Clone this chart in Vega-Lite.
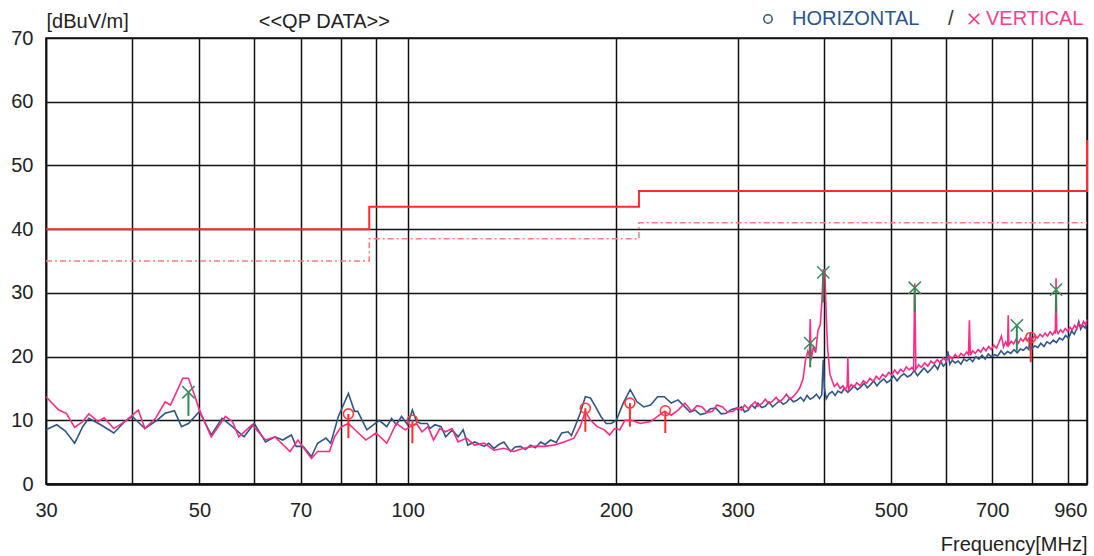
{
 "$schema": "https://vega.github.io/schema/vega-lite/v6.json",
 "width": 1041, "height": 446,
 "autosize": {"type": "none"},
 "padding": {"left": 46, "top": 38, "right": 7, "bottom": 72},
 "background": "white",
 "config": {"font": "Liberation Sans", "view": {"stroke": "#111", "strokeWidth": 1.5}},
 "title": {"text": "<<QP DATA>>", "anchor": "start", "dx": 248, "fontSize": 20, "fontWeight": "normal", "color": "#222", "offset": 0, "baseline": "middle", "dy": 33},
 "datasets": {
  "traces": [
   {"pol":"HORIZONTAL","f":30,"v":8.5},{"pol":"HORIZONTAL","f":31.1,"v":9.3},{"pol":"HORIZONTAL","f":32,"v":8.3},{"pol":"HORIZONTAL","f":33,"v":6.4},{"pol":"HORIZONTAL","f":33.9,"v":9.0},{"pol":"HORIZONTAL","f":34.6,"v":10.3},{"pol":"HORIZONTAL","f":36,"v":9.3},{"pol":"HORIZONTAL","f":37.6,"v":8.0},{"pol":"HORIZONTAL","f":39,"v":9.8},{"pol":"HORIZONTAL","f":40,"v":10.6},{"pol":"HORIZONTAL","f":41.7,"v":8.7},{"pol":"HORIZONTAL","f":43.4,"v":10.0},{"pol":"HORIZONTAL","f":44.6,"v":11.1},{"pol":"HORIZONTAL","f":46,"v":11.5},{"pol":"HORIZONTAL","f":47.1,"v":9.0},{"pol":"HORIZONTAL","f":48.2,"v":9.5},{"pol":"HORIZONTAL","f":50,"v":11.4},{"pol":"HORIZONTAL","f":51,"v":9.5},{"pol":"HORIZONTAL","f":52,"v":7.7},{"pol":"HORIZONTAL","f":53.9,"v":10.3},{"pol":"HORIZONTAL","f":55.8,"v":9.0},{"pol":"HORIZONTAL","f":58,"v":7.4},{"pol":"HORIZONTAL","f":60,"v":9.5},{"pol":"HORIZONTAL","f":62.3,"v":6.6},{"pol":"HORIZONTAL","f":64.3,"v":7.4},{"pol":"HORIZONTAL","f":66,"v":6.9},{"pol":"HORIZONTAL","f":67.9,"v":7.7},{"pol":"HORIZONTAL","f":69,"v":5.9},{"pol":"HORIZONTAL","f":70.6,"v":5.9},{"pol":"HORIZONTAL","f":72.6,"v":4.3},{"pol":"HORIZONTAL","f":74.1,"v":6.4},{"pol":"HORIZONTAL","f":76.2,"v":7.2},{"pol":"HORIZONTAL","f":77.4,"v":6.4},{"pol":"HORIZONTAL","f":79.4,"v":10.6},{"pol":"HORIZONTAL","f":82.1,"v":14.2},{"pol":"HORIZONTAL","f":83.8,"v":11.4},{"pol":"HORIZONTAL","f":84.7,"v":11.4},{"pol":"HORIZONTAL","f":87.3,"v":8.5},{"pol":"HORIZONTAL","f":91,"v":10.0},{"pol":"HORIZONTAL","f":93.3,"v":9.0},{"pol":"HORIZONTAL","f":94.8,"v":10.3},{"pol":"HORIZONTAL","f":96.3,"v":9.3},{"pol":"HORIZONTAL","f":98,"v":10.6},{"pol":"HORIZONTAL","f":100,"v":9.3},{"pol":"HORIZONTAL","f":101.6,"v":11.6},{"pol":"HORIZONTAL","f":103,"v":9.8},{"pol":"HORIZONTAL","f":104.5,"v":9.5},{"pol":"HORIZONTAL","f":106.8,"v":9.5},{"pol":"HORIZONTAL","f":107.7,"v":8.7},{"pol":"HORIZONTAL","f":109.5,"v":9.3},{"pol":"HORIZONTAL","f":111.8,"v":9.0},{"pol":"HORIZONTAL","f":113.5,"v":7.4},{"pol":"HORIZONTAL","f":116,"v":8.5},{"pol":"HORIZONTAL","f":118.3,"v":7.4},{"pol":"HORIZONTAL","f":120.3,"v":8.5},{"pol":"HORIZONTAL","f":122.2,"v":6.1},{"pol":"HORIZONTAL","f":125,"v":6.6},{"pol":"HORIZONTAL","f":129,"v":5.9},{"pol":"HORIZONTAL","f":131,"v":6.4},{"pol":"HORIZONTAL","f":133.3,"v":5.6},{"pol":"HORIZONTAL","f":135.5,"v":6.2},{"pol":"HORIZONTAL","f":137.8,"v":6.6},{"pol":"HORIZONTAL","f":140.9,"v":5.1},{"pol":"HORIZONTAL","f":143,"v":5.8},{"pol":"HORIZONTAL","f":145.6,"v":5.9},{"pol":"HORIZONTAL","f":148,"v":5.4},{"pol":"HORIZONTAL","f":150.6,"v":6.1},{"pol":"HORIZONTAL","f":153,"v":5.7},{"pol":"HORIZONTAL","f":155.8,"v":6.6},{"pol":"HORIZONTAL","f":158,"v":6.2},{"pol":"HORIZONTAL","f":161,"v":6.9},{"pol":"HORIZONTAL","f":164,"v":6.5},{"pol":"HORIZONTAL","f":167,"v":8.0},{"pol":"HORIZONTAL","f":170.6,"v":8.2},{"pol":"HORIZONTAL","f":172.5,"v":7.6},{"pol":"HORIZONTAL","f":174.6,"v":9.0},{"pol":"HORIZONTAL","f":177.6,"v":11.1},{"pol":"HORIZONTAL","f":180.7,"v":13.7},{"pol":"HORIZONTAL","f":183.8,"v":13.5},{"pol":"HORIZONTAL","f":187,"v":12.1},{"pol":"HORIZONTAL","f":190.3,"v":10.6},{"pol":"HORIZONTAL","f":193.6,"v":9.5},{"pol":"HORIZONTAL","f":196.9,"v":9.5},{"pol":"HORIZONTAL","f":200.3,"v":10.0},{"pol":"HORIZONTAL","f":205,"v":12.7},{"pol":"HORIZONTAL","f":209.8,"v":14.8},{"pol":"HORIZONTAL","f":214.6,"v":12.9},{"pol":"HORIZONTAL","f":219.5,"v":12.1},{"pol":"HORIZONTAL","f":224.6,"v":12.4},{"pol":"HORIZONTAL","f":229.8,"v":13.7},{"pol":"HORIZONTAL","f":235,"v":13.7},{"pol":"HORIZONTAL","f":240.5,"v":12.7},{"pol":"HORIZONTAL","f":246,"v":13.2},{"pol":"HORIZONTAL","f":251.7,"v":12.1},{"pol":"HORIZONTAL","f":256,"v":11.3},{"pol":"HORIZONTAL","f":260.5,"v":11.6},{"pol":"HORIZONTAL","f":265,"v":10.9},{"pol":"HORIZONTAL","f":269.6,"v":11.1},{"pol":"HORIZONTAL","f":274,"v":11.8},{"pol":"HORIZONTAL","f":279,"v":11.9},{"pol":"HORIZONTAL","f":284,"v":11.0},{"pol":"HORIZONTAL","f":288.7,"v":11.1},{"pol":"HORIZONTAL","f":294,"v":11.7},{"pol":"HORIZONTAL","f":298.7,"v":11.9},
   {"pol":"HORIZONTAL","f":300,"v":11.7},{"pol":"HORIZONTAL","f":304,"v":12.1},{"pol":"HORIZONTAL","f":307,"v":11.3},{"pol":"HORIZONTAL","f":311,"v":11.6},{"pol":"HORIZONTAL","f":314,"v":12.4},{"pol":"HORIZONTAL","f":318,"v":11.9},{"pol":"HORIZONTAL","f":321,"v":12.7},{"pol":"HORIZONTAL","f":325,"v":12.0},{"pol":"HORIZONTAL","f":329,"v":12.2},{"pol":"HORIZONTAL","f":333,"v":12.9},{"pol":"HORIZONTAL","f":337,"v":12.1},{"pol":"HORIZONTAL","f":341,"v":12.6},{"pol":"HORIZONTAL","f":345,"v":13.1},{"pol":"HORIZONTAL","f":349,"v":12.5},{"pol":"HORIZONTAL","f":353,"v":12.8},{"pol":"HORIZONTAL","f":357,"v":13.5},{"pol":"HORIZONTAL","f":361,"v":12.9},{"pol":"HORIZONTAL","f":365,"v":13.1},{"pol":"HORIZONTAL","f":370,"v":13.6},{"pol":"HORIZONTAL","f":374,"v":13.0},{"pol":"HORIZONTAL","f":378,"v":13.9},{"pol":"HORIZONTAL","f":382,"v":13.3},{"pol":"HORIZONTAL","f":386,"v":13.6},{"pol":"HORIZONTAL","f":390,"v":14.1},{"pol":"HORIZONTAL","f":394,"v":13.4},{"pol":"HORIZONTAL","f":397,"v":14.0},{"pol":"HORIZONTAL","f":399,"v":19.5},{"pol":"HORIZONTAL","f":400.5,"v":15.0},{"pol":"HORIZONTAL","f":403,"v":13.4},{"pol":"HORIZONTAL","f":407,"v":14.2},{"pol":"HORIZONTAL","f":411,"v":14.5},{"pol":"HORIZONTAL","f":415,"v":13.9},{"pol":"HORIZONTAL","f":419,"v":14.6},{"pol":"HORIZONTAL","f":424,"v":14.3},{"pol":"HORIZONTAL","f":428,"v":15.0},{"pol":"HORIZONTAL","f":433,"v":14.4},{"pol":"HORIZONTAL","f":437,"v":14.8},{"pol":"HORIZONTAL","f":442,"v":15.4},{"pol":"HORIZONTAL","f":447,"v":14.8},{"pol":"HORIZONTAL","f":452,"v":15.2},{"pol":"HORIZONTAL","f":457,"v":15.8},{"pol":"HORIZONTAL","f":462,"v":15.1},{"pol":"HORIZONTAL","f":467,"v":15.6},{"pol":"HORIZONTAL","f":472,"v":16.2},{"pol":"HORIZONTAL","f":477,"v":15.4},{"pol":"HORIZONTAL","f":482,"v":16.0},{"pol":"HORIZONTAL","f":488,"v":16.5},{"pol":"HORIZONTAL","f":493,"v":15.9},{"pol":"HORIZONTAL","f":499,"v":16.3},{"pol":"HORIZONTAL","f":504,"v":17.0},{"pol":"HORIZONTAL","f":510,"v":16.2},{"pol":"HORIZONTAL","f":516,"v":16.9},{"pol":"HORIZONTAL","f":522,"v":17.3},{"pol":"HORIZONTAL","f":528,"v":16.8},{"pol":"HORIZONTAL","f":534,"v":17.1},{"pol":"HORIZONTAL","f":540,"v":17.8},{"pol":"HORIZONTAL","f":546,"v":17.0},{"pol":"HORIZONTAL","f":552,"v":17.6},{"pol":"HORIZONTAL","f":558,"v":18.2},{"pol":"HORIZONTAL","f":565,"v":17.5},{"pol":"HORIZONTAL","f":571,"v":18.0},{"pol":"HORIZONTAL","f":578,"v":18.7},{"pol":"HORIZONTAL","f":584,"v":18.0},{"pol":"HORIZONTAL","f":590,"v":19.2},{"pol":"HORIZONTAL","f":595,"v":18.5},{"pol":"HORIZONTAL","f":600,"v":18.9},{"pol":"HORIZONTAL","f":604,"v":20.8},{"pol":"HORIZONTAL","f":608,"v":18.8},{"pol":"HORIZONTAL","f":613,"v":19.4},{"pol":"HORIZONTAL","f":619,"v":19.0},{"pol":"HORIZONTAL","f":625,"v":19.3},{"pol":"HORIZONTAL","f":631,"v":18.8},{"pol":"HORIZONTAL","f":637,"v":19.6},{"pol":"HORIZONTAL","f":643,"v":19.3},{"pol":"HORIZONTAL","f":650,"v":19.7},{"pol":"HORIZONTAL","f":656,"v":19.2},{"pol":"HORIZONTAL","f":663,"v":20.0},{"pol":"HORIZONTAL","f":670,"v":19.6},{"pol":"HORIZONTAL","f":677,"v":20.2},{"pol":"HORIZONTAL","f":684,"v":19.6},{"pol":"HORIZONTAL","f":691,"v":20.4},{"pol":"HORIZONTAL","f":698,"v":20.0},{"pol":"HORIZONTAL","f":706,"v":20.3},{"pol":"HORIZONTAL","f":713,"v":20.1},{"pol":"HORIZONTAL","f":721,"v":20.9},{"pol":"HORIZONTAL","f":729,"v":20.3},{"pol":"HORIZONTAL","f":737,"v":20.8},{"pol":"HORIZONTAL","f":745,"v":20.5},{"pol":"HORIZONTAL","f":753,"v":21.1},{"pol":"HORIZONTAL","f":761,"v":20.6},{"pol":"HORIZONTAL","f":769,"v":21.2},{"pol":"HORIZONTAL","f":777,"v":21.0},{"pol":"HORIZONTAL","f":785,"v":21.5},{"pol":"HORIZONTAL","f":791,"v":21.1},{"pol":"HORIZONTAL","f":795,"v":23.8},{"pol":"HORIZONTAL","f":799,"v":21.2},{"pol":"HORIZONTAL","f":807,"v":21.7},{"pol":"HORIZONTAL","f":815,"v":21.4},{"pol":"HORIZONTAL","f":823,"v":22.1},{"pol":"HORIZONTAL","f":832,"v":21.6},{"pol":"HORIZONTAL","f":840,"v":22.3},{"pol":"HORIZONTAL","f":849,"v":22.0},{"pol":"HORIZONTAL","f":858,"v":22.6},{"pol":"HORIZONTAL","f":867,"v":22.2},{"pol":"HORIZONTAL","f":876,"v":22.9},{"pol":"HORIZONTAL","f":885,"v":22.6},{"pol":"HORIZONTAL","f":894,"v":23.3},{"pol":"HORIZONTAL","f":903,"v":22.9},{"pol":"HORIZONTAL","f":912,"v":24.0},{"pol":"HORIZONTAL","f":920,"v":23.5},{"pol":"HORIZONTAL","f":928,"v":24.4},{"pol":"HORIZONTAL","f":934,"v":25.5},{"pol":"HORIZONTAL","f":940,"v":24.3},{"pol":"HORIZONTAL","f":947,"v":24.9},{"pol":"HORIZONTAL","f":954,"v":24.5},{"pol":"HORIZONTAL","f":960,"v":25.2},
   {"pol":"VERTICAL","f":30,"v":13.7},{"pol":"VERTICAL","f":31.3,"v":11.6},{"pol":"VERTICAL","f":32.1,"v":11.1},{"pol":"VERTICAL","f":33,"v":8.9},{"pol":"VERTICAL","f":33.9,"v":9.8},{"pol":"VERTICAL","f":34.6,"v":11.0},{"pol":"VERTICAL","f":35.7,"v":9.8},{"pol":"VERTICAL","f":36.4,"v":10.4},{"pol":"VERTICAL","f":37.6,"v":8.7},{"pol":"VERTICAL","f":39,"v":9.8},{"pol":"VERTICAL","f":40,"v":10.8},{"pol":"VERTICAL","f":40.8,"v":11.6},{"pol":"VERTICAL","f":41.7,"v":8.7},{"pol":"VERTICAL","f":43.2,"v":10.3},{"pol":"VERTICAL","f":44.6,"v":12.9},{"pol":"VERTICAL","f":45.4,"v":12.4},{"pol":"VERTICAL","f":46,"v":13.7},{"pol":"VERTICAL","f":47.3,"v":16.6},{"pol":"VERTICAL","f":48.2,"v":16.6},{"pol":"VERTICAL","f":49.1,"v":14.2},{"pol":"VERTICAL","f":50,"v":11.6},{"pol":"VERTICAL","f":52,"v":7.4},{"pol":"VERTICAL","f":54.5,"v":10.6},{"pol":"VERTICAL","f":55.8,"v":9.8},{"pol":"VERTICAL","f":57,"v":7.4},{"pol":"VERTICAL","f":59.6,"v":9.3},{"pol":"VERTICAL","f":62.3,"v":6.9},{"pol":"VERTICAL","f":64.3,"v":7.4},{"pol":"VERTICAL","f":67.6,"v":5.1},{"pol":"VERTICAL","f":69.4,"v":6.9},{"pol":"VERTICAL","f":72.6,"v":4.0},{"pol":"VERTICAL","f":74.1,"v":5.1},{"pol":"VERTICAL","f":77.1,"v":5.1},{"pol":"VERTICAL","f":78.4,"v":7.4},{"pol":"VERTICAL","f":80.2,"v":9.0},{"pol":"VERTICAL","f":82.1,"v":9.5},{"pol":"VERTICAL","f":84.5,"v":8.2},{"pol":"VERTICAL","f":87,"v":6.9},{"pol":"VERTICAL","f":90,"v":8.0},{"pol":"VERTICAL","f":93.3,"v":6.4},{"pol":"VERTICAL","f":96.3,"v":9.5},{"pol":"VERTICAL","f":99.2,"v":8.5},{"pol":"VERTICAL","f":101,"v":9.0},{"pol":"VERTICAL","f":103,"v":9.5},{"pol":"VERTICAL","f":104.9,"v":8.2},{"pol":"VERTICAL","f":107,"v":9.0},{"pol":"VERTICAL","f":109,"v":6.9},{"pol":"VERTICAL","f":111.3,"v":8.7},{"pol":"VERTICAL","f":113.5,"v":8.2},{"pol":"VERTICAL","f":115.9,"v":8.7},{"pol":"VERTICAL","f":118.3,"v":6.6},{"pol":"VERTICAL","f":121.6,"v":7.2},{"pol":"VERTICAL","f":125,"v":6.1},{"pol":"VERTICAL","f":129,"v":6.4},{"pol":"VERTICAL","f":133.3,"v":5.3},{"pol":"VERTICAL","f":137.8,"v":5.6},{"pol":"VERTICAL","f":142.4,"v":5.1},{"pol":"VERTICAL","f":147.2,"v":5.6},{"pol":"VERTICAL","f":152.2,"v":5.9},{"pol":"VERTICAL","f":157.4,"v":5.9},{"pol":"VERTICAL","f":162.7,"v":6.1},{"pol":"VERTICAL","f":168.3,"v":6.6},{"pol":"VERTICAL","f":174,"v":7.2},{"pol":"VERTICAL","f":177.6,"v":9.0},{"pol":"VERTICAL","f":180.7,"v":11.4},{"pol":"VERTICAL","f":183.8,"v":10.0},{"pol":"VERTICAL","f":188,"v":9.0},{"pol":"VERTICAL","f":192.5,"v":8.5},{"pol":"VERTICAL","f":195.9,"v":7.7},{"pol":"VERTICAL","f":199.2,"v":8.7},{"pol":"VERTICAL","f":202.6,"v":8.5},{"pol":"VERTICAL","f":206.1,"v":10.0},{"pol":"VERTICAL","f":210.8,"v":10.0},{"pol":"VERTICAL","f":217,"v":9.5},{"pol":"VERTICAL","f":224.6,"v":9.8},{"pol":"VERTICAL","f":229.8,"v":10.6},{"pol":"VERTICAL","f":235,"v":11.4},{"pol":"VERTICAL","f":240.5,"v":10.8},{"pol":"VERTICAL","f":246,"v":11.6},{"pol":"VERTICAL","f":251.7,"v":12.7},{"pol":"VERTICAL","f":257.5,"v":11.4},{"pol":"VERTICAL","f":262,"v":12.3},{"pol":"VERTICAL","f":266.6,"v":12.1},{"pol":"VERTICAL","f":271,"v":11.2},{"pol":"VERTICAL","f":275.8,"v":11.4},{"pol":"VERTICAL","f":280,"v":12.4},{"pol":"VERTICAL","f":285.4,"v":12.1},{"pol":"VERTICAL","f":290,"v":11.3},{"pol":"VERTICAL","f":295.3,"v":11.4},
   {"pol":"VERTICAL","f":300,"v":12.0},{"pol":"VERTICAL","f":304,"v":11.6},{"pol":"VERTICAL","f":307,"v":12.4},{"pol":"VERTICAL","f":311,"v":11.8},{"pol":"VERTICAL","f":314,"v":12.3},{"pol":"VERTICAL","f":318,"v":12.9},{"pol":"VERTICAL","f":321,"v":12.2},{"pol":"VERTICAL","f":325,"v":12.6},{"pol":"VERTICAL","f":329,"v":13.3},{"pol":"VERTICAL","f":333,"v":12.6},{"pol":"VERTICAL","f":337,"v":13.0},{"pol":"VERTICAL","f":341,"v":13.6},{"pol":"VERTICAL","f":345,"v":12.9},{"pol":"VERTICAL","f":349,"v":13.4},{"pol":"VERTICAL","f":353,"v":14.1},{"pol":"VERTICAL","f":357,"v":13.3},{"pol":"VERTICAL","f":361,"v":13.7},{"pol":"VERTICAL","f":365,"v":14.3},{"pol":"VERTICAL","f":369,"v":15.1},{"pol":"VERTICAL","f":373,"v":16.5},{"pol":"VERTICAL","f":376,"v":19.4},{"pol":"VERTICAL","f":379,"v":20.8},{"pol":"VERTICAL","f":381,"v":20.0},{"pol":"VERTICAL","f":382,"v":25.9},{"pol":"VERTICAL","f":383,"v":19.4},{"pol":"VERTICAL","f":386,"v":21.5},{"pol":"VERTICAL","f":389,"v":20.6},{"pol":"VERTICAL","f":392,"v":24.1},{"pol":"VERTICAL","f":395,"v":25.0},{"pol":"VERTICAL","f":397,"v":28.3},{"pol":"VERTICAL","f":399,"v":33.6},{"pol":"VERTICAL","f":401,"v":33.6},{"pol":"VERTICAL","f":403,"v":26.0},{"pol":"VERTICAL","f":405,"v":21.0},{"pol":"VERTICAL","f":408,"v":17.2},{"pol":"VERTICAL","f":411,"v":16.2},{"pol":"VERTICAL","f":414,"v":15.3},{"pol":"VERTICAL","f":418,"v":15.8},{"pol":"VERTICAL","f":422,"v":15.0},{"pol":"VERTICAL","f":426,"v":15.4},{"pol":"VERTICAL","f":429,"v":14.8},{"pol":"VERTICAL","f":432,"v":15.3},{"pol":"VERTICAL","f":433,"v":19.9},{"pol":"VERTICAL","f":434,"v":14.8},{"pol":"VERTICAL","f":438,"v":15.6},{"pol":"VERTICAL","f":442,"v":15.2},{"pol":"VERTICAL","f":446,"v":15.9},{"pol":"VERTICAL","f":451,"v":15.4},{"pol":"VERTICAL","f":456,"v":16.2},{"pol":"VERTICAL","f":461,"v":15.8},{"pol":"VERTICAL","f":466,"v":16.6},{"pol":"VERTICAL","f":471,"v":16.1},{"pol":"VERTICAL","f":476,"v":16.9},{"pol":"VERTICAL","f":481,"v":16.4},{"pol":"VERTICAL","f":486,"v":17.2},{"pol":"VERTICAL","f":491,"v":16.8},{"pol":"VERTICAL","f":496,"v":17.5},{"pol":"VERTICAL","f":501,"v":17.1},{"pol":"VERTICAL","f":506,"v":17.9},{"pol":"VERTICAL","f":511,"v":17.3},{"pol":"VERTICAL","f":516,"v":18.0},{"pol":"VERTICAL","f":521,"v":17.6},{"pol":"VERTICAL","f":526,"v":18.4},{"pol":"VERTICAL","f":531,"v":17.9},{"pol":"VERTICAL","f":536,"v":18.3},{"pol":"VERTICAL","f":539,"v":17.9},{"pol":"VERTICAL","f":541,"v":31.5},{"pol":"VERTICAL","f":543,"v":18.0},{"pol":"VERTICAL","f":548,"v":18.7},{"pol":"VERTICAL","f":553,"v":18.3},{"pol":"VERTICAL","f":559,"v":19.0},{"pol":"VERTICAL","f":565,"v":18.5},{"pol":"VERTICAL","f":571,"v":19.3},{"pol":"VERTICAL","f":577,"v":18.9},{"pol":"VERTICAL","f":583,"v":19.5},{"pol":"VERTICAL","f":589,"v":19.0},{"pol":"VERTICAL","f":595,"v":19.8},{"pol":"VERTICAL","f":601,"v":19.3},{"pol":"VERTICAL","f":607,"v":20.1},{"pol":"VERTICAL","f":613,"v":19.6},{"pol":"VERTICAL","f":619,"v":20.3},{"pol":"VERTICAL","f":625,"v":19.8},{"pol":"VERTICAL","f":631,"v":20.5},{"pol":"VERTICAL","f":637,"v":20.1},{"pol":"VERTICAL","f":643,"v":20.7},{"pol":"VERTICAL","f":647,"v":20.3},{"pol":"VERTICAL","f":649,"v":25.7},{"pol":"VERTICAL","f":651,"v":20.2},{"pol":"VERTICAL","f":656,"v":20.9},{"pol":"VERTICAL","f":662,"v":20.5},{"pol":"VERTICAL","f":668,"v":21.1},{"pol":"VERTICAL","f":674,"v":20.7},{"pol":"VERTICAL","f":680,"v":21.4},{"pol":"VERTICAL","f":686,"v":20.9},{"pol":"VERTICAL","f":692,"v":21.6},{"pol":"VERTICAL","f":698,"v":21.1},{"pol":"VERTICAL","f":704,"v":21.8},{"pol":"VERTICAL","f":710,"v":21.3},{"pol":"VERTICAL","f":716,"v":22.2},{"pol":"VERTICAL","f":722,"v":23.2},{"pol":"VERTICAL","f":727,"v":21.5},{"pol":"VERTICAL","f":732,"v":22.3},{"pol":"VERTICAL","f":737,"v":21.6},{"pol":"VERTICAL","f":738.5,"v":26.5},{"pol":"VERTICAL","f":740,"v":21.8},{"pol":"VERTICAL","f":746,"v":22.4},{"pol":"VERTICAL","f":752,"v":22.0},{"pol":"VERTICAL","f":758,"v":22.7},{"pol":"VERTICAL","f":764,"v":22.1},{"pol":"VERTICAL","f":770,"v":22.8},{"pol":"VERTICAL","f":776,"v":22.4},{"pol":"VERTICAL","f":782,"v":23.0},{"pol":"VERTICAL","f":788,"v":22.5},{"pol":"VERTICAL","f":794,"v":23.2},{"pol":"VERTICAL","f":800,"v":22.7},{"pol":"VERTICAL","f":807,"v":23.3},{"pol":"VERTICAL","f":814,"v":22.9},{"pol":"VERTICAL","f":821,"v":23.5},{"pol":"VERTICAL","f":828,"v":23.1},{"pol":"VERTICAL","f":835,"v":23.7},{"pol":"VERTICAL","f":842,"v":23.2},{"pol":"VERTICAL","f":849,"v":23.9},{"pol":"VERTICAL","f":856,"v":23.4},{"pol":"VERTICAL","f":862,"v":24.0},{"pol":"VERTICAL","f":864,"v":23.6},{"pol":"VERTICAL","f":866,"v":32.3},{"pol":"VERTICAL","f":868,"v":24.1},{"pol":"VERTICAL","f":872,"v":23.6},{"pol":"VERTICAL","f":879,"v":24.2},{"pol":"VERTICAL","f":886,"v":23.8},{"pol":"VERTICAL","f":893,"v":24.4},{"pol":"VERTICAL","f":900,"v":24.0},{"pol":"VERTICAL","f":907,"v":24.6},{"pol":"VERTICAL","f":914,"v":24.2},{"pol":"VERTICAL","f":921,"v":24.9},{"pol":"VERTICAL","f":928,"v":24.4},{"pol":"VERTICAL","f":935,"v":25.2},{"pol":"VERTICAL","f":942,"v":24.7},{"pol":"VERTICAL","f":949,"v":25.5},{"pol":"VERTICAL","f":955,"v":25.0},{"pol":"VERTICAL","f":960,"v":25.8}
  ],
  "limits": [
   {"kind":"limit","i":0,"f":30,"v":40},{"kind":"limit","i":1,"f":88,"v":40},{"kind":"limit","i":2,"f":88,"v":43.5},{"kind":"limit","i":3,"f":216,"v":43.5},{"kind":"limit","i":4,"f":216,"v":46},{"kind":"limit","i":5,"f":960,"v":46},{"kind":"limit","i":6,"f":960,"v":54},
   {"kind":"margin","i":0,"f":30,"v":35},{"kind":"margin","i":1,"f":88,"v":35},{"kind":"margin","i":2,"f":88,"v":38.5},{"kind":"margin","i":3,"f":216,"v":38.5},{"kind":"margin","i":4,"f":216,"v":41},{"kind":"margin","i":5,"f":960,"v":41}
  ],
  "qp": [
   {"pol":"VERTICAL","f":48.2,"v":14.4,"low":10.7},
   {"pol":"VERTICAL","f":382,"v":22.1,"low":18.3},
   {"pol":"VERTICAL","f":399,"v":33.2,"low":28.5},
   {"pol":"VERTICAL","f":541,"v":30.8,"low":27.0},
   {"pol":"VERTICAL","f":760,"v":24.9,"low":20.9},
   {"pol":"VERTICAL","f":866,"v":30.5,"low":26.8},
   {"pol":"HORIZONTAL","f":82.1,"v":11.0,"low":7.2},
   {"pol":"HORIZONTAL","f":101.6,"v":10.0,"low":6.4},
   {"pol":"HORIZONTAL","f":180.7,"v":11.9,"low":8.2},
   {"pol":"HORIZONTAL","f":209.6,"v":12.7,"low":9.0},
   {"pol":"HORIZONTAL","f":235.8,"v":11.5,"low":8.0},
   {"pol":"HORIZONTAL","f":796,"v":23.0,"low":19.1}
  ]
 },
 "encoding": {
  "x": {"field": "f", "type": "quantitative",
   "scale": {"type": "log", "domain": [30, 960], "nice": false},
   "axis": {
    "values": [30,40,50,60,70,80,90,100,200,300,400,500,600,700,800,900,960],
    "labelExpr": "indexof([30,50,70,100,200,300,500,700,960], datum.value) >= 0 ? format(datum.value, 'd') : ''",
    "grid": true, "gridColor": "#111", "gridWidth": 1.5, "gridOpacity": 1,
    "domain": true, "domainColor": "#111", "domainWidth": 2.5,
    "ticks": false, "labelPadding": 16, "labelFontSize": 20, "labelColor": "#222",
    "labelAlign": {"expr": "datum.value >= 960 ? 'right' : 'center'"},
    "labelFlush": false, "labelOverlap": false, "labelBound": false,
    "title": "Frequency[MHz]", "titleAnchor": "end", "titleFontSize": 20, "titleFontWeight": "normal", "titleColor": "#222", "titlePadding": 14
   }},
  "y": {"field": "v", "type": "quantitative",
   "scale": {"domain": [0, 70], "nice": false},
   "axis": {
    "values": [0,10,20,30,40,50,60,70],
    "grid": true, "gridColor": "#111", "gridWidth": 1.5, "gridOpacity": 1,
    "domain": true, "domainColor": "#111", "domainWidth": 1.5,
    "ticks": false, "labelPadding": 13, "labelFontSize": 20, "labelColor": "#222",
    "title": "[dBuV/m]", "titleAngle": 0, "titleAlign": "left", "titleBaseline": "middle",
    "titleX": 0, "titleY": -17, "titleFontSize": 20, "titleFontWeight": "normal", "titleColor": "#222"
   }}
 },
 "layer": [
  {"data": {"name": "limits"}, "transform": [{"filter": "datum.kind == 'margin'"}],
   "mark": {"type": "line", "color": "#ff7a7a", "strokeWidth": 1.5, "strokeDash": [6, 3, 2, 3]},
   "encoding": {"order": {"field": "i", "type": "quantitative"}}},
  {"data": {"name": "limits"}, "transform": [{"filter": "datum.kind == 'limit'"}],
   "mark": {"type": "line", "color": "#ff2a2a", "strokeWidth": 2},
   "encoding": {"order": {"field": "i", "type": "quantitative"}}},
  {"data": {"name": "traces"}, "transform": [{"filter": "datum.pol == 'HORIZONTAL'"}],
   "mark": {"type": "line", "strokeWidth": 1.6},
   "encoding": {"color": {"field": "pol", "type": "nominal",
     "scale": {"domain": ["HORIZONTAL"], "range": ["#2f568a"]},
     "legend": {"orient": "none", "legendX": 712, "legendY": -29, "title": null,
       "symbolType": "circle", "symbolSize": 70, "symbolStrokeWidth": 1.5,
       "labelFontSize": 20, "labelColor": "#27548c", "labelOffset": 14, "labelFont": "Liberation Sans"}}}},
  {"data": {"name": "traces"}, "transform": [{"filter": "datum.pol == 'VERTICAL'"}],
   "mark": {"type": "line", "strokeWidth": 1.6},
   "encoding": {"color": {"field": "pol", "type": "nominal",
     "scale": {"domain": ["VERTICAL"], "range": ["#ff2a85"]},
     "legend": {"orient": "none", "legendX": 902, "legendY": -29, "title": "/", "titleOrient": "left",
       "titleFontSize": 20, "titleFontWeight": "normal", "titleColor": "#333", "titlePadding": 10,
       "symbolType": "M-1,-1L1,1M-1,1L1,-1", "symbolSize": 110, "symbolStrokeWidth": 1.5,
       "labelFontSize": 20, "labelColor": "#ff3d8e", "labelOffset": 2, "labelFont": "Liberation Sans"}}}},
  {"data": {"name": "qp"}, "transform": [{"filter": "datum.pol == 'VERTICAL'"}],
   "mark": {"type": "rule", "color": "#2f8a4f", "strokeWidth": 2},
   "encoding": {"y2": {"field": "low"}}},
  {"data": {"name": "qp"}, "transform": [{"filter": "datum.pol == 'HORIZONTAL'"}],
   "mark": {"type": "rule", "color": "#ff2a2a", "strokeWidth": 2},
   "encoding": {"y2": {"field": "low"}}},
  {"data": {"name": "qp"}, "transform": [{"filter": "datum.pol == 'VERTICAL'"}],
   "mark": {"type": "point", "shape": "M-1,-1L1,1M-1,1L1,-1", "size": 150, "color": "#3a8a5a", "strokeWidth": 1.5, "filled": false, "opacity": 1},
   "encoding": {}},
  {"data": {"name": "qp"}, "transform": [{"filter": "datum.pol == 'HORIZONTAL'"}],
   "mark": {"type": "point", "shape": "circle", "size": 100, "color": "#ff3b3b", "strokeWidth": 1.6, "filled": false, "opacity": 1},
   "encoding": {}}
 ],
 "resolve": {"scale": {"color": "independent"}, "legend": {"color": "independent"}}
}
